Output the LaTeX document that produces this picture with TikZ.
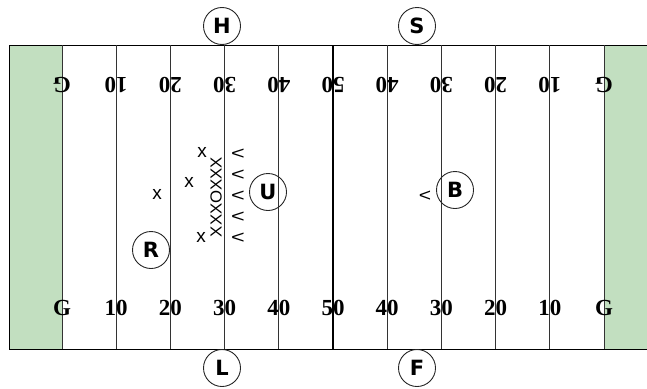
\documentclass[tikz,border=0pt]{standalone}
\usepackage{fontspec}
\setmainfont{Liberation Serif}
\newfontfamily\markfont{Liberation Sans}
\newfontfamily\officialfont{DejaVu Sans}
\definecolor{endzone}{RGB}{194,223,192}
\begin{document}
\begin{tikzpicture}
  [x=1pt,y=-1pt,every node/.style={inner sep=0pt}]
  \tikzstyle{official} = [circle,draw=black!85,line width=0.9pt,minimum size=37pt,font=\officialfont\bfseries\fontsize{21}{21}\selectfont]
  \tikzstyle{yardnum} = [font=\bfseries\fontsize{23}{23}\selectfont]
  \tikzstyle{yardline} = [draw=black!80,line width=1pt]
  \tikzstyle{player} = [font=\markfont\fontsize{19}{19}\selectfont]
  \tikzstyle{wedge} = [font=\markfont\fontsize{18}{18}\selectfont,xscale=1.3]
  \useasboundingbox (0,0) rectangle (647,388);
  % end zones and sidelines
  \fill[endzone] (9,45) rectangle (62,349);
  \fill[endzone] (604,45) rectangle (647,349);
  \draw[line width=1pt] (647,45) -- (9,45) -- (9,349) -- (647,349);
  \foreach \i /\num in {0/G,1/10,2/20,3/30,4/40,5/50,6/40,7/30,8/20,9/10,10/G} {
   \draw[yardline] (62+54.2*\i,45) -- (62+54.2*\i,349);
   \node[yardnum] (b\i) at (62+54.2*\i,308) {\num};
   \node[yardnum,rotate=180] (t\i) at (62+54.2*\i,85) {\num};
  }
  \draw[line width=2pt] (333,45) -- (333,349);
  % officials
  \node[official] (H) at (222,26)  {H};
  \node[official] (S) at (417,26)  {S};
  \node[official] (L) at (222,368) {L};
  \node[official] (F) at (417,368) {F};
  \node[official] (U) at (268,192) {U};
  \node[official] (B) at (455,190) {B};
  \node[official] (R) at (151,250) {R};
  % offense
  \node[player,rotate=90,xscale=1.05,font=\markfont\fontsize{16}{16}\selectfont] (line) at (216,197) {XXXOXXX};
  \node[player] (x1) at (202,152) {x};
  \node[player] (x2) at (189,182) {x};
  \node[player] (x3) at (201,237) {x};
  \node[player] (x4) at (157,194) {x};
  % defense
  \foreach \k in {0,...,4}
   \node[wedge] (d\k) at (238,154+21*\k) {<};
  \node[wedge,xscale=0.9] (d5) at (425,196) {<};
\end{tikzpicture}
\end{document}
